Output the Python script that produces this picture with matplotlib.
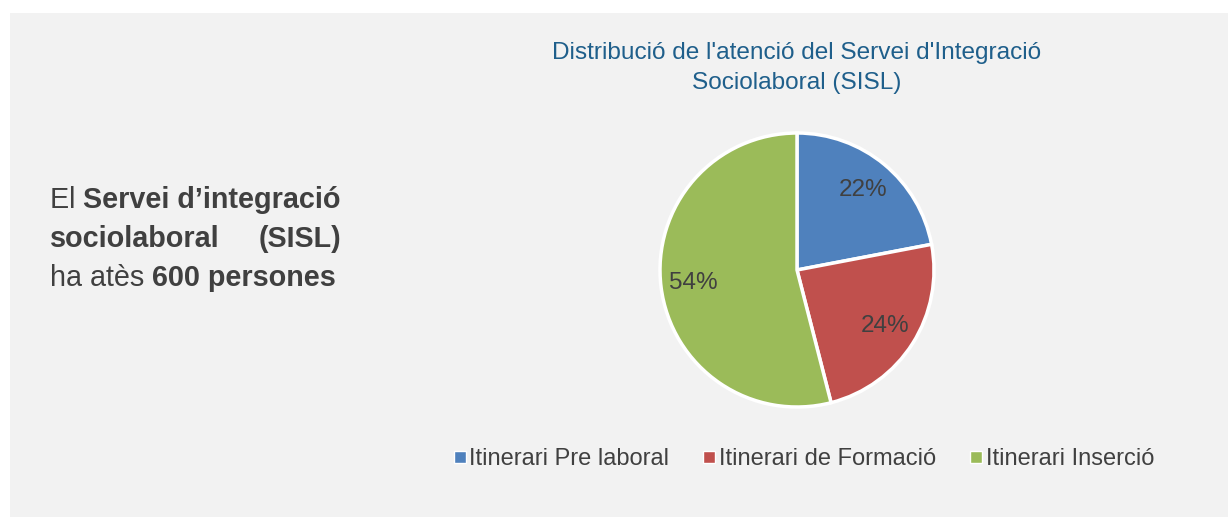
import matplotlib
matplotlib.use("Agg")
import matplotlib.pyplot as plt
from matplotlib.lines import Line2D
from matplotlib.patches import Rectangle

plt.rcParams['font.family'] = ['Liberation Sans', 'DejaVu Sans']

# ---- data ----
categories = ["Itinerari Pre laboral", "Itinerari de Formació", "Itinerari Inserció"]
values = [22, 24, 54]
colors = ["#4F81BD", "#C0504D", "#9BBB59"]
title = "Distribució de l'atenció del Servei d'Integració\nSociolaboral (SISL)"

W, H = 1228, 517
fig = plt.figure(figsize=(W / 100, H / 100), dpi=100)
fig.patch.set_facecolor("white")

# gray panel
fig.patches.append(Rectangle((10 / W, 0), (W - 10) / W, (H - 13) / H,
                             transform=fig.transFigure, facecolor="#F2F2F2",
                             edgecolor="none", zorder=-10))

TXT = "#404040"

# ---- pie ----
cx, cy, r = 797, 270, 137
ax = fig.add_axes([(cx - r) / W, (H - cy - r) / H, 2 * r / W, 2 * r / H])
ax.set_zorder(5)
ax.set_facecolor("none")
wedges, texts, autotexts = ax.pie(
    values, colors=colors, startangle=90, counterclock=False,
    autopct=lambda p: f"{p:.0f}%", pctdistance=0.76,
    wedgeprops=dict(edgecolor="white", linewidth=2.5),
    textprops=dict(color=TXT, fontsize=17.5))
for w in wedges:
    w.set_clip_on(False)
ax.set_xlim(-1, 1)
ax.set_ylim(-1, 1)
ax.set_aspect("equal")
ax.axis("off")

# ---- title ----
fig.text(cx / W, 1 - 68 / H, title, ha="center", va="center",
         fontsize=17.6, color="#1F5F8B", linespacing=1.45)

# ---- legend ----
handles = [Line2D([], [], marker="s", linestyle="", markersize=8,
                  markerfacecolor=c, markeredgecolor="white", markeredgewidth=1)
           for c in colors]
fig.legend(handles, categories, loc="center", bbox_to_anchor=(804 / W, 1 - 459 / H),
           ncol=3, frameon=False, fontsize=17, labelcolor=TXT,
           handlelength=0.5, handletextpad=0.15, columnspacing=1.45)

# ---- left text block (justified, mixed weight) ----
fig.canvas.draw()
renderer = fig.canvas.get_renderer()
x0, x1 = 50, 341
fs = 20.7
lines = [
    (200, [("El ", "normal"), ("Servei d’integració", "bold")]),
    (239, [("sociolaboral", "bold"), ("(SISL)", "bold")]),
    (278, [("ha atès ", "normal"), ("600 persones", "bold")]),
]
for y, parts in lines:
    if parts[0][0] == "sociolaboral":
        fig.text(x0 / W, 1 - y / H, parts[0][0], fontsize=fs, fontweight="bold",
                 color=TXT, ha="left", va="center")
        fig.text(x1 / W, 1 - y / H, parts[1][0], fontsize=fs, fontweight="bold",
                 color=TXT, ha="right", va="center")
        continue
    x = x0
    for s, wt in parts:
        t = fig.text(x / W, 1 - y / H, s, fontsize=fs, fontweight=wt,
                     color=TXT, ha="left", va="center")
        bb = t.get_window_extent(renderer)
        x += bb.width

fig.savefig("out.png", dpi=100, facecolor=fig.get_facecolor())
